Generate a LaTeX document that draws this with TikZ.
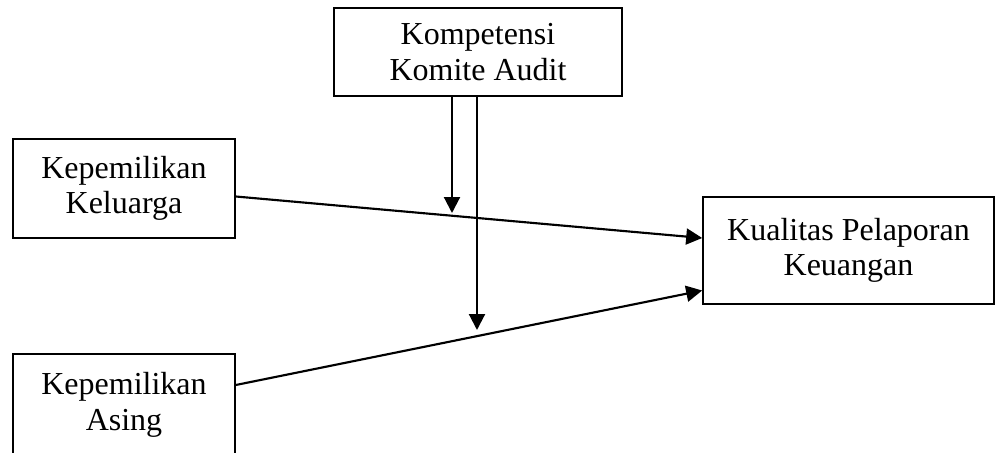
\documentclass[tikz,border=0pt]{standalone}
\usepackage{fontspec}
\setmainfont{Liberation Serif}
\usetikzlibrary{arrows.meta,calc}

\begin{document}
\begin{tikzpicture}[x=0.75pt,y=-0.75pt,>={Triangle[length=12pt,width=12pt]},
		var/.style={rectangle,draw=black,line width=1.2pt,align=center,inner sep=2pt,font=\fontsize{24}{26.5}\selectfont},
		link/.style={->,line width=1.6pt}]
		\useasboundingbox (0,0) rectangle (997,453);
		\node[var,minimum width=166.5pt,minimum height=74.25pt] (kel) at (124,188.5) {Kepemilikan\\Keluarga};
		\node[var,anchor=north,minimum width=166.5pt,inner ysep=14pt,text depth=60pt] (asg) at (124,353) {Kepemilikan\\Asing};
		\node[var,minimum width=216pt,minimum height=66pt] (kom) at (478,52) {Kompetensi\\Komite Audit};
		\node[var,minimum width=218.25pt,minimum height=80.25pt] (kua) at (848.5,250.5) {Kualitas Pelaporan\\Keuangan};
		
		\coordinate (m1) at (452,213);
		\coordinate (m2) at (477,330);
		
		\path[link]
		($(kel.east)+(0,8)$) edge ($(kua.west)+(0,-12.5)$)
		($(asg.north east)+(0,32)$) edge ($(kua.west)+(0,40)$)
		(kom.south -| m1) edge (m1)
		(kom.south -| m2) edge (m2);
		\end{tikzpicture}
\end{document}
